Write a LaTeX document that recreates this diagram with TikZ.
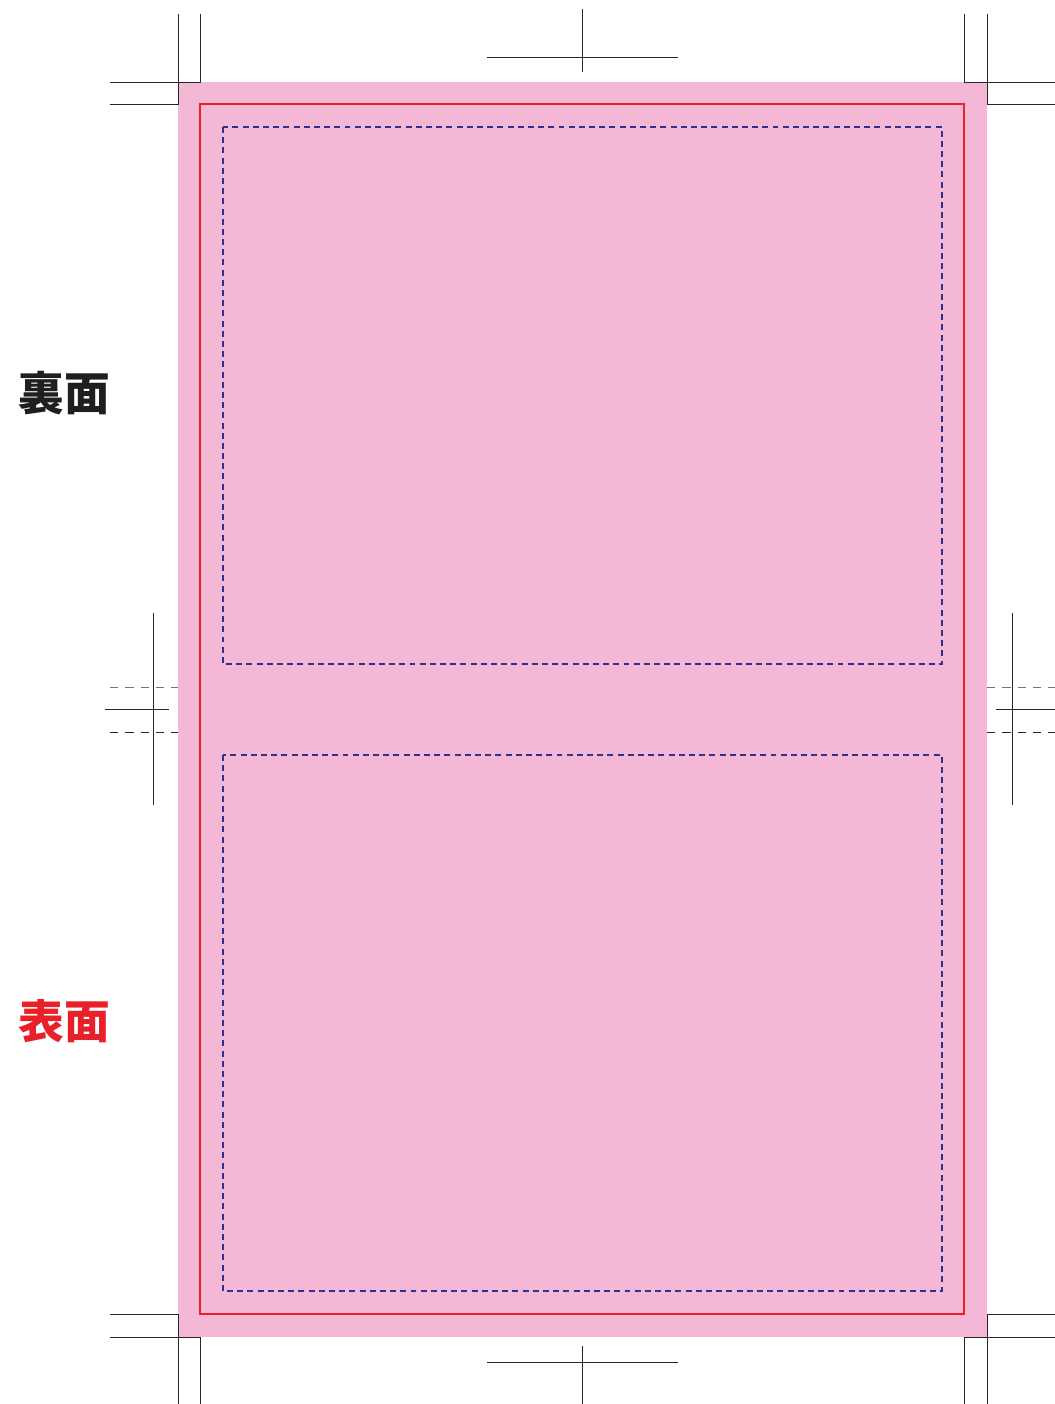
\documentclass[tikz,border=0pt]{standalone}
\usepackage{fontspec}
\newfontfamily\cjk{Noto Sans CJK JP}
\usepackage{tikz}
\definecolor{bleedpink}{HTML}{F4B7D5}
\definecolor{trimred}{HTML}{E8202A}
\definecolor{safeblue}{HTML}{2E3192}
\begin{document}
\begin{tikzpicture}[x=0.02cm,y=-0.02cm,
    cropline/.style={line width=0.5pt,black!85},
    foldline/.style={line width=0.5pt,dash pattern=on 4.7pt off 4pt},
    safebox/.style={draw=safeblue,line width=1.6pt,dash pattern=on 3.4pt off 2.4pt},
    sidelabel/.style={font=\cjk\bfseries\fontsize{26}{26}\selectfont,inner sep=0pt}]
    \useasboundingbox (0,0) rectangle (1055,1404);
    \fill [bleedpink] (178,82) rectangle (987,1337);
    \draw [trimred, line width=1.6pt] (200,104) rectangle (964,1314);
    \draw [safebox] (223,127) rectangle (942,664); \draw [safebox]
    (223,755) rectangle (942,1291);
    \draw [cropline] (200,14) -- (200,82) -- (110,82); \draw [cropline]
    (178,14) -- (178,104) -- (110,104); \draw [cropline] (964,14) --
    (964,82) -- (1055,82); \draw [cropline] (987,14) -- (987,104) --
    (1055,104); \draw [cropline] (110,1314) -- (178,1314) -- (178,1404);
    \draw [cropline] (110,1337) -- (200,1337) -- (200,1404); \draw
    [cropline] (1055,1314) -- (987,1314) -- (987,1404); \draw [cropline]
    (1055,1337) -- (964,1337) -- (964,1404);
    \draw [cropline] (582,9) -- (582,72); \draw [cropline] (487,57) --
    (678,57); \draw [cropline] (582,1346) -- (582,1404); \draw [cropline]
    (487,1362) -- (678,1362);
    \draw [cropline] (153,613) -- (153,805); \draw [cropline] (105,709)
    -- (169,709); \draw [cropline] (1012,613) -- (1012,805); \draw
    [cropline] (996,709) -- (1055,709);
    \draw [foldline, black!55] (110,687) -- (178,687); \draw [foldline,
    black!85] (110,732) -- (178,732); \draw [foldline, black!55] (987,687)
    -- (1055,687); \draw [foldline, black!85] (987,732) -- (1055,732);
    \node [sidelabel, text=black!88] (back) at (64,393) {裏面};
    \node [sidelabel, text=trimred] (front) at (64,1021) {表面};
\end{tikzpicture}
\end{document}
